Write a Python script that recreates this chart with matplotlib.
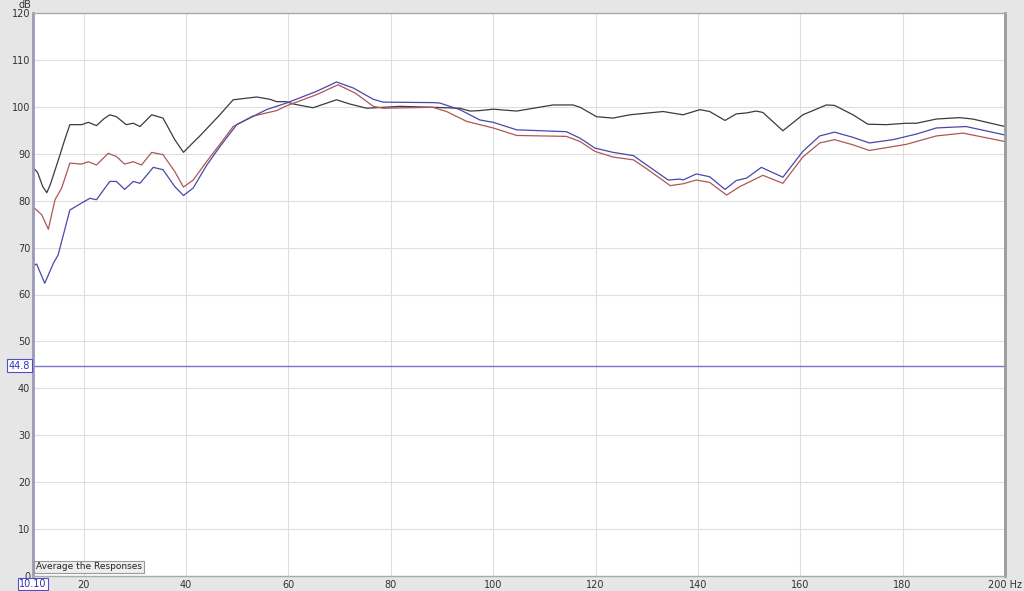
import matplotlib.pyplot as plt
import matplotlib.transforms as mtransforms

# frequency response readings (Hz, dB)
black_hz = [10.1, 11.0, 12.0, 12.8, 13.5, 15.0, 16.3, 17.3, 19.6, 20.9, 22.5, 24.0, 25.1, 26.4,
            28.3, 29.7, 31.0, 33.3, 35.5, 37.8, 39.5, 41.3, 42.7, 46.6, 49.2, 53.8, 56.4, 57.7,
            59.6, 61.0, 64.8, 69.4, 72.0, 75.3, 81.8, 88.2, 93.5, 95.5, 97.4, 100.0, 104.6,
            111.7, 115.6, 117.0, 120.2, 123.4, 126.7, 133.2, 137.1, 140.4, 142.3, 145.3, 147.5,
            149.5, 151.4, 152.7, 156.6, 160.5, 165.1, 166.7, 170.3, 173.2, 176.8, 180.7, 182.7,
            186.6, 191.1, 193.7, 200.0]
black_db = [87.1, 86.0, 83.0, 81.7, 83.5, 88.5, 93.0, 96.2, 96.2, 96.7, 96.0, 97.5, 98.3, 97.9,
            96.2, 96.5, 95.8, 98.3, 97.6, 93.0, 90.3, 92.3, 93.8, 98.3, 101.5, 102.1, 101.6, 101.1,
            101.1, 100.6, 99.8, 101.5, 100.6, 99.7, 100.1, 99.9, 99.7, 99.1, 99.2, 99.5, 99.1,
            100.4, 100.4, 99.9, 97.9, 97.6, 98.3, 99.0, 98.3, 99.4, 99.0, 97.1, 98.5,
            98.7, 99.1, 98.8, 94.9, 98.3, 100.4, 100.3, 98.3, 96.3, 96.2, 96.5, 96.5,
            97.4, 97.7, 97.4, 95.8]

red_hz = [10.1, 11.8, 13.1, 14.4, 15.7, 17.3, 19.6, 20.9, 22.5, 24.8, 26.4, 28.0, 29.7, 31.3,
          33.3, 35.5, 37.8, 39.5, 41.4, 44.0, 46.6, 49.2, 53.0, 57.7, 59.6, 65.5, 69.7, 73.1,
          76.6, 78.5, 88.2, 90.9, 94.8, 97.4, 100.0, 104.6, 114.3, 117.0, 119.9, 123.4, 127.4,
          130.0, 134.6, 137.1, 139.7, 142.3, 145.6, 148.2, 152.7, 156.6, 160.5, 163.8, 166.7,
          170.3, 173.5, 180.7, 186.6, 191.8, 200.0]
red_db = [78.7, 77.0, 73.9, 80.2, 82.7, 88.0, 87.8, 88.3, 87.6, 90.1, 89.4, 87.8, 88.3, 87.6,
          90.3, 89.8, 86.2, 82.9, 84.4, 88.3, 92.0, 95.8, 98.0, 99.2, 100.2, 102.6, 104.7, 102.9,
          100.1, 99.7, 99.9, 99.0, 96.9, 96.2, 95.5, 93.9, 93.7, 92.6, 90.5, 89.3, 88.7,
          86.8, 83.2, 83.6, 84.4, 83.9, 81.2, 83.0, 85.4, 83.7, 89.3, 92.3, 93.0,
          91.9, 90.7, 92.0, 93.8, 94.4, 92.6]

blue_hz = [10.1, 10.8, 12.4, 14.1, 15.0, 17.3, 19.6, 21.2, 22.5, 25.1, 26.4, 28.0, 29.7, 31.0,
           33.6, 35.5, 37.8, 39.5, 41.4, 44.0, 46.6, 49.9, 55.7, 59.6, 65.5, 69.4, 72.7, 76.6,
           78.5, 88.3, 89.6, 93.5, 97.4, 100.0, 104.6, 114.3, 117.0, 119.9, 123.4, 127.4, 130.0,
           134.2, 136.5, 137.1, 139.7, 142.3, 145.3, 147.5, 149.5, 152.4, 156.6, 160.5, 163.8,
           166.7, 170.3, 173.5, 178.1, 182.7, 186.6, 192.4, 200.0]
blue_db = [66.1, 66.5, 62.4, 66.7, 68.4, 78.0, 79.5, 80.5, 80.2, 84.1, 84.1, 82.4, 84.1, 83.7,
           87.1, 86.6, 83.0, 81.1, 82.7, 87.5, 91.5, 96.2, 99.4, 100.8, 103.3, 105.3, 104.0, 101.6,
           101.0, 100.9, 100.8, 99.4, 97.2, 96.7, 95.1, 94.7, 93.3, 91.2, 90.3, 89.6, 87.6,
           84.4, 84.6, 84.4, 85.7, 85.1, 82.4, 84.3, 84.8, 87.1, 85.0, 90.5, 93.8,
           94.6, 93.5, 92.3, 93.0, 94.2, 95.5, 95.8, 94.0]

x_ticks = [20, 40, 60, 80, 100, 120, 140, 160, 180, 200]
x_labels = ['20', '40', '60', '80', '100', '120', '140', '160', '180', '200 Hz']
y_ticks = list(range(0, 121, 10))
marker_db = 44.8
cursor_hz = 10.1

plt.rcParams['font.family'] = 'DejaVu Sans'
fig = plt.figure(figsize=(10.24, 5.91), dpi=100, facecolor='#e6e6e6')
ax = fig.add_axes([33/1024, 15/591, 972/1024, 563/591])
ax.set_facecolor('white')

ax.set_xlim(10.1, 200)
ax.set_ylim(0, 120)
ax.set_xticks(x_ticks)
ax.set_xticklabels(x_labels)
ax.set_yticks(y_ticks)
ax.tick_params(length=0, labelsize=7, colors='#333333')
ax.tick_params(axis='x', pad=3)
ax.tick_params(axis='y', pad=2)
ax.grid(True, color='#dedede', lw=0.8)
ax.set_axisbelow(True)

for s in ['top', 'bottom']:
    ax.spines[s].set_color('#aaaaaa')
    ax.spines[s].set_linewidth(1)
ax.spines['right'].set_color('#999999')
ax.spines['right'].set_linewidth(2)
ax.spines['left'].set_color('#9a9ab8')
ax.spines['left'].set_linewidth(2)

ax.axhline(marker_db, color='#7777c4', lw=1)

ax.plot(black_hz, black_db, color='#3a3a44', lw=0.9)
ax.plot(red_hz, red_db, color='#b05656', lw=0.9)
ax.plot(blue_hz, blue_db, color='#4848a8', lw=0.9)

trans = mtransforms.blended_transform_factory(ax.transAxes, ax.transData)
ax.text(-0.003, marker_db, '44.8', transform=trans, ha='right', va='center',
        fontsize=7, color='#3030b0',
        bbox=dict(boxstyle='square,pad=0.15', fc='white', ec='#5050c0', lw=0.8))

trans2 = mtransforms.blended_transform_factory(ax.transData, ax.transAxes)
ax.text(cursor_hz, -0.0145, '10.10', transform=trans2, ha='center', va='center',
        fontsize=7, color='#3030b0',
        bbox=dict(boxstyle='square,pad=0.1', fc='white', ec='#5050c0', lw=0.8))

ax.text(0.003, 0.008, 'Average the Responses', transform=ax.transAxes, ha='left', va='bottom',
        fontsize=6.5, color='#222222',
        bbox=dict(boxstyle='square,pad=0.2', fc='#eeeeee', ec='#999999', lw=0.8))

fig.text(25/1024, 1 - 5/591, 'dB', ha='center', va='center', fontsize=7, color='#333333')

fig.savefig('out.png', dpi=100, facecolor=fig.get_facecolor())
